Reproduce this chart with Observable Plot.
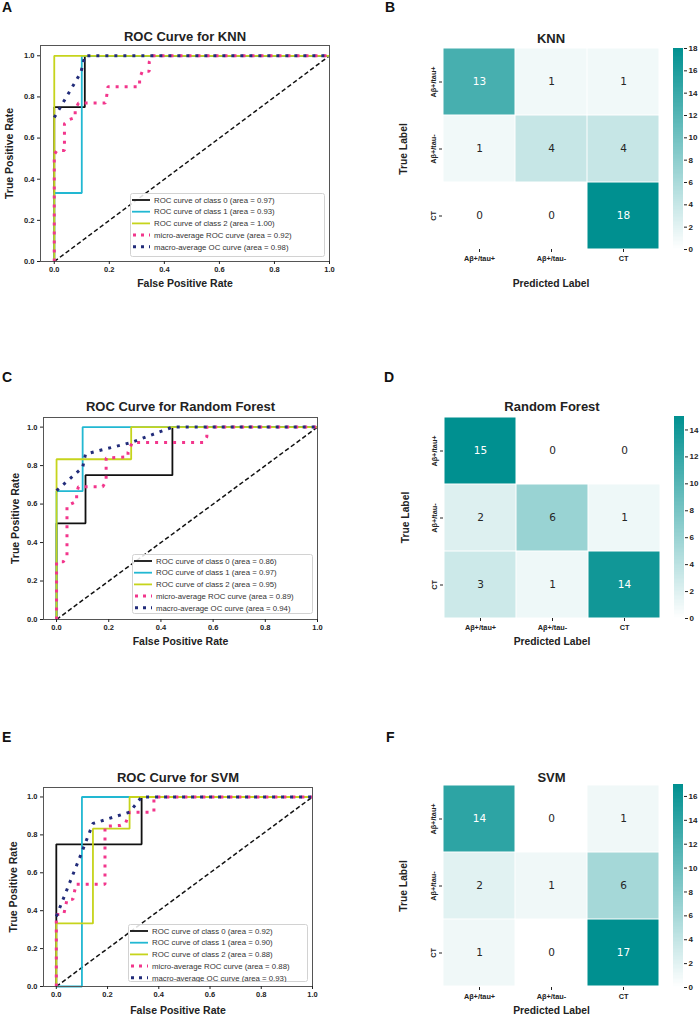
<!DOCTYPE html>
<html>
<head>
<meta charset="utf-8">
<script src="https://cdn.jsdelivr.net/npm/d3@7"></script>
<script src="https://cdn.jsdelivr.net/npm/@observablehq/plot@0.6"></script>
<style>
  body { margin: 0; background: #fff; }
  #fig { position: relative; width: 700px; height: 1017px; overflow: hidden; background: #fff;
         font-family: "Liberation Sans", Arial, sans-serif; }
  #fig svg { position: absolute; }
  .tag { position: absolute; font-weight: bold; font-size: 14px; line-height: 14px; color: #111; }
</style>
</head>
<body>
<div id="fig"></div>
<script>
// ---------- data ----------
const classLabels = ["Aβ+/tau+", "Aβ+/tau-", "CT"];
const rocTicks = [0, 0.2, 0.4, 0.6, 0.8, 1.0];
const chanceLine = [[0, 0], [1, 1]];

// KNN ROC curves as [fpr, tpr] points
const knnClass0 = [[0,0],[0,0.75],[0.111,0.75],[0.111,1],[1,1]];
const knnClass1 = [[0,0],[0,0.333],[0.1,0.333],[0.1,1],[1,1]];
const knnClass2 = [[0,0],[0,1],[1,1]];
const knnMicro  = [[0,0],[0,0.52],[0.01,0.54],[0.037,0.54],[0.037,0.67],[0.055,0.69],[0.076,0.70],[0.076,0.74],[0.088,0.77],[0.185,0.77],[0.19,0.80],[0.195,0.85],[0.31,0.85],[0.31,0.89],[0.32,0.925],[0.345,0.925],[0.345,0.97],[0.357,1],[1,1]];
const knnMacro  = [[0,0.70],[0.097,0.92],[0.111,1],[1,1]];
const knnAuc    = [0.97, 0.93, 1.00, 0.92, 0.98];

// Random Forest ROC curves
const rfClass0 = [[0,0],[0,0.5],[0.111,0.5],[0.111,0.75],[0.444,0.75],[0.444,1],[1,1]];
const rfClass1 = [[0,0],[0,0.667],[0.1,0.667],[0.1,1],[1,1]];
const rfClass2 = [[0,0],[0,0.833],[0.286,0.833],[0.286,1],[1,1]];
const rfMicro  = [[0,0],[0,0.30],[0.026,0.30],[0.04,0.33],[0.04,0.59],[0.077,0.615],[0.077,0.66],[0.084,0.69],[0.177,0.69],[0.19,0.72],[0.19,0.84],[0.274,0.845],[0.274,0.87],[0.29,0.92],[0.563,0.92],[0.576,0.95],[0.576,1],[1,1]];
const rfMacro  = [[0,0.67],[0.1,0.79],[0.111,0.86],[0.286,0.92],[0.444,1],[1,1]];
const rfAuc    = [0.86, 0.97, 0.95, 0.89, 0.94];

// SVM ROC curves
const svmClass0 = [[0,0],[0,0.75],[0.333,0.75],[0.333,1],[1,1]];
const svmClass1 = [[0,0],[0.1,0],[0.1,1],[1,1]];
const svmClass2 = [[0,0],[0,0.333],[0.143,0.333],[0.143,0.833],[0.286,0.833],[0.286,1],[1,1]];
const svmMicro  = [[0,0],[0,0.38],[0.029,0.38],[0.042,0.46],[0.065,0.46],[0.077,0.54],[0.19,0.54],[0.19,0.845],[0.25,0.85],[0.27,0.86],[0.286,0.92],[0.381,0.92],[0.381,1],[1,1]];
const svmMacro  = [[0,0.37],[0.1,0.71],[0.143,0.86],[0.286,0.92],[0.333,1],[1,1]];
const svmAuc    = [0.92, 0.90, 0.88, 0.88, 0.93];

// Confusion matrices (rows = true label, columns = predicted label)
const knnMatrix = [[13,1,1],[1,4,4],[0,0,18]];
const rfMatrix  = [[15,0,0],[2,6,1],[3,1,14]];
const svmMatrix = [[14,0,1],[2,1,6],[1,0,17]];

// ---------- styles ----------
const FONT = '"Liberation Sans", Arial, sans-serif';
const classColors = ["#111111", "#22b8d2", "#c6d41c"];
const microColor = "#f2368c";
const macroColor = "#222c7a";
const heatLow = "#ffffff", heatHigh = "#009090";
const label = {lineAnchor: "middle", textAnchor: "middle", fontWeight: "bold", fill: "#222"};

const fig = document.getElementById("fig");

function tag(letter, left, top) {
  const d = document.createElement("div");
  d.className = "tag";
  d.textContent = letter;
  d.style.left = left + "px";
  d.style.top = top + "px";
  fig.appendChild(d);
}

function place(el, left, top) {
  el.style.left = left + "px";
  el.style.top = top + "px";
  fig.appendChild(el);
}

const px = d => d[0], py = d => d[1];
const dotted = {strokeWidth: 3, strokeDasharray: "3,6", strokeLinecap: "butt", strokeLinejoin: "miter"};

function rocPanel(o) {
  const {top, height, frame, curves, title, titleDy, xlabDy, ylabDx} = o;
  const chart = Plot.plot({
    width: 350,
    height,
    marginLeft: frame.l,
    marginRight: 350 - frame.r,
    marginTop: frame.t - top,
    marginBottom: top + height - frame.b,
    x: {domain: [-0.05, 1.0]},
    y: {domain: [0, 1.05]},
    style: {fontFamily: FONT, background: "transparent", overflow: "visible", color: "#222"},
    marks: [
      Plot.line(chanceLine, {x: px, y: py, stroke: "#111", strokeWidth: 1.5, strokeDasharray: "4.5,2.6", strokeLinecap: "butt"}),
      ...curves.slice(0, 3).map((c, i) =>
        Plot.line(c, {x: px, y: py, stroke: classColors[i], strokeWidth: 1.8, strokeLinecap: "butt", strokeLinejoin: "miter"})),
      Plot.line(curves[3], {x: px, y: py, stroke: microColor, ...dotted}),
      Plot.line(curves[4], {x: px, y: py, stroke: macroColor, ...dotted}),
      Plot.frame({stroke: "#555", strokeWidth: 1}),
      Plot.axisX({ticks: rocTicks, tickFormat: d3.format(".1f"), tickSize: 3, tickPadding: 2,
                  fontSize: 7.5, fontWeight: "bold", label: null}),
      Plot.axisY({ticks: rocTicks, tickFormat: d3.format(".1f"), tickSize: 3, tickPadding: 3,
                  fontSize: 7.5, fontWeight: "bold", label: null}),
      Plot.text([title], {text: d => d, frameAnchor: "top", dy: titleDy, fontSize: 13, ...label}),
      Plot.text(["False Positive Rate"], {text: d => d, frameAnchor: "bottom", dy: xlabDy, fontSize: 10.5, ...label}),
      Plot.text(["True Positive Rate"], {text: d => d, frameAnchor: "left", dx: ylabDx, rotate: -90, fontSize: 10.5, ...label})
    ]
  });
  place(chart, 0, top);
}

function rocLegend(box, aucs) {
  const labels = [
    `ROC curve of class 0 (area = ${aucs[0].toFixed(2)})`,
    `ROC curve of class 1 (area = ${aucs[1].toFixed(2)})`,
    `ROC curve of class 2 (area = ${aucs[2].toFixed(2)})`,
    `micro-average ROC curve (area = ${aucs[3].toFixed(2)})`,
    `macro-average OC curve (area = ${aucs[4].toFixed(2)})`
  ];
  const svg = d3.create("svg").attr("width", box.w).attr("height", box.h);
  svg.append("rect").attr("x", 0.5).attr("y", 0.5).attr("width", box.w - 1).attr("height", box.h - 1)
    .attr("rx", 2).attr("fill", "rgba(255,255,255,0.85)").attr("stroke", "#d2d2d2");
  labels.forEach((lab, i) => {
    const y = 7 + i * box.pitch;
    const ln = svg.append("line").attr("x1", 2).attr("x2", 20).attr("y1", y).attr("y2", y);
    if (i < 3) ln.attr("stroke", classColors[i]).attr("stroke-width", 1.8);
    else ln.attr("x1", 3).attr("stroke", i === 3 ? microColor : macroColor).attr("stroke-width", 3).attr("stroke-dasharray", "3,5");
    svg.append("text").attr("x", 24).attr("y", y).attr("dy", "0.35em")
      .attr("font-family", FONT).attr("font-size", 7.8).attr("fill", "#333").text(lab);
  });
  place(svg.node(), box.l, box.t);
}

function luminance(c) {
  const rgb = d3.rgb(c);
  const lin = v => { v /= 255; return v <= 0.03928 ? v / 12.92 : Math.pow((v + 0.055) / 1.055, 2.4); };
  return 0.2126 * lin(rgb.r) + 0.7152 * lin(rgb.g) + 0.0722 * lin(rgb.b);
}

function heatPanel(o) {
  const {top, height, cells, matrix, title, titleDy, xlabDy, ylabDx, cbar} = o;
  const vmax = d3.max(matrix.flat());
  const interp = d3.interpolateRgb(heatLow, heatHigh);
  const colorOf = v => interp(v / vmax);
  const data = [];
  matrix.forEach((row, i) => row.forEach((v, j) => data.push({t: classLabels[i], p: classLabels[j], v})));
  const dark = d => luminance(colorOf(d.v)) > 0.408;
  const colorScale = {type: "linear", domain: [0, vmax], interpolate: interp};
  const numFont = {fontSize: 10.5, fontFamily: '"DejaVu Sans", sans-serif', lineAnchor: "middle"};

  const chart = Plot.plot({
    width: 350,
    height,
    marginLeft: cells.l - 350,
    marginRight: 700 - cells.r,
    marginTop: cells.t - top,
    marginBottom: top + height - cells.b,
    x: {domain: classLabels, padding: 0},
    y: {domain: classLabels, padding: 0},
    color: colorScale,
    style: {fontFamily: FONT, background: "transparent", overflow: "visible", color: "#222"},
    marks: [
      Plot.cell(data, {x: "p", y: "t", fill: "v", inset: 0.5}),
      Plot.text(data, {x: "p", y: "t", text: d => String(d.v), filter: dark, fill: "#262626", ...numFont}),
      Plot.text(data, {x: "p", y: "t", text: d => String(d.v), filter: d => !dark(d), fill: "#ffffff", ...numFont}),
      Plot.axisX({tickSize: 3, tickPadding: 3, fontSize: 7.3, fontWeight: "bold", label: null}),
      Plot.axisY({tickSize: 3, text: null, label: null}),
      Plot.text(classLabels, {y: d => d, text: d => d, frameAnchor: "left", dx: -9, rotate: -90,
                              fontSize: 7.3, ...label}),
      Plot.text([title], {text: d => d, frameAnchor: "top", dy: titleDy, fontSize: 13, ...label}),
      Plot.text(["Predicted Label"], {text: d => d, frameAnchor: "bottom", dy: xlabDy, fontSize: 10.3, ...label}),
      Plot.text(["True Label"], {text: d => d, frameAnchor: "left", dx: ylabDx, rotate: -90, fontSize: 10.3, ...label})
    ]
  });
  place(chart, 350, top);

  // colour bar
  const step = vmax / 150;
  const slices = d3.range(0, vmax, step);
  const bar = Plot.plot({
    width: 30,
    height,
    marginLeft: 0,
    marginRight: 30 - (cbar.r - cbar.l),
    marginTop: cells.t - top,
    marginBottom: top + height - cells.b,
    x: {domain: [0, 1], axis: null},
    y: {domain: [0, vmax]},
    color: colorScale,
    style: {fontFamily: FONT, background: "transparent", overflow: "visible", color: "#222"},
    marks: [
      Plot.rect(slices, {x1: 0, x2: 1, y1: d => d, y2: d => Math.min(vmax, d + step * 1.05),
                         fill: d => d + step / 2, shapeRendering: "crispEdges"}),
      Plot.axisY({anchor: "right", ticks: d3.range(0, vmax + 0.001, 2), tickSize: 3, tickPadding: 2,
                  fontSize: 8, fontWeight: "bold", label: null})
    ]
  });
  place(bar, cbar.l, top);
}

// ---------- panels ----------
tag("A", 2, 0);
rocPanel({top: 0, height: 330, frame: {l: 40, r: 329, t: 45, b: 261},
  curves: [knnClass0, knnClass1, knnClass2, knnMicro, knnMacro],
  title: "ROC Curve for KNN", titleDy: -9, xlabDy: 22, ylabDx: -31});
rocLegend({l: 130, t: 193, w: 195, h: 64, pitch: 11.7}, knnAuc);

tag("B", 385, 0);
heatPanel({top: 0, height: 330, cells: {l: 442, r: 659, t: 48, b: 249}, matrix: knnMatrix,
  title: "KNN", titleDy: -10, xlabDy: 34, ylabDx: -39, cbar: {l: 673, r: 683}});

tag("C", 2, 370);
rocPanel({top: 330, height: 360, frame: {l: 43, r: 317, t: 417, b: 619},
  curves: [rfClass0, rfClass1, rfClass2, rfMicro, rfMacro],
  title: "ROC Curve for Random Forest", titleDy: -11, xlabDy: 22, ylabDx: -28});
rocLegend({l: 132, t: 554, w: 181, h: 60, pitch: 11.7}, rfAuc);

tag("D", 384, 370);
heatPanel({top: 330, height: 360, cells: {l: 443, r: 660, t: 416, b: 618}, matrix: rfMatrix,
  title: "Random Forest", titleDy: -10, xlabDy: 23, ylabDx: -38, cbar: {l: 674, r: 684}});

tag("E", 2, 730);
rocPanel({top: 690, height: 327, frame: {l: 43, r: 312, t: 787, b: 986},
  curves: [svmClass0, svmClass1, svmClass2, svmMicro, svmMacro],
  title: "ROC Curve for SVM", titleDy: -10, xlabDy: 24, ylabDx: -30});
rocLegend({l: 128, t: 924, w: 180, h: 58, pitch: 11.7}, svmAuc);

tag("F", 386, 730);
heatPanel({top: 690, height: 327, cells: {l: 442, r: 660, t: 784, b: 987}, matrix: svmMatrix,
  title: "SVM", titleDy: -7, xlabDy: 23, ylabDx: -39, cbar: {l: 673, r: 683}});
</script>
</body>
</html>
